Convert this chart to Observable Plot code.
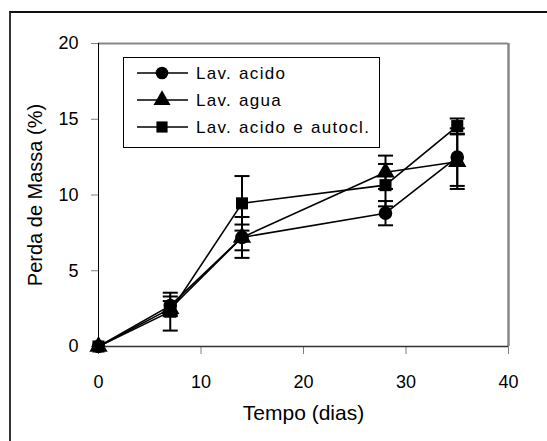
<!DOCTYPE html>
<html>
<head>
<meta charset="utf-8">
<script src="https://cdn.jsdelivr.net/npm/d3@7"></script>
<script src="https://cdn.jsdelivr.net/npm/@observablehq/plot@0.6"></script>
<style>
  html, body { margin: 0; padding: 0; background: #fff; overflow: hidden; }
  #wrap { position: relative; width: 547px; height: 441px; font-family: "Liberation Sans", Arial, sans-serif; }
  #frame { position: absolute; left: 9px; top: 11px; width: 700px; height: 600px;
           border-left: 2px solid #333; border-top: 2px solid #111; pointer-events: none; }
  #legend { position: absolute; left: 0; top: 0; }
</style>
</head>
<body>
<div id="wrap"><div id="frame"></div></div>
<script>
// ---- data ----
const days = [0, 7, 14, 28, 35];
const seriesNames = ["Lav. acido", "Lav. agua", "Lav. acido e autocl."];
const seriesSymbols = ["circle", "triangle", "square"];
const acido = [0, 2.7, 7.2, 8.8, 12.5];
const acidoErr = [0, 0.6, 1.35, 0.8, 1.9];
const agua = [0, 2.5, 7.2, 11.5, 12.2];
const aguaErr = [0, 0.5, 0.85, 1.1, 1.8];
const autocl = [0, 2.3, 9.45, 10.65, 14.55];
const autoclErr = [0, 1.25, 1.8, 1.4, 0.5];
const xTicks = [0, 10, 20, 30, 40];
const yTicks = [0, 5, 10, 15, 20];
const xLabel = "Tempo (dias)";
const yLabel = "Perda de Massa (%)";

const values = [acido, agua, autocl];
const errors = [acidoErr, aguaErr, autoclErr];
const rows = seriesNames.flatMap((s, i) =>
  days.map((d, j) => ({series: s, day: d, value: values[i][j], err: errors[i][j]})));
const errRows = rows.filter(r => r.err > 0);
const caps = errRows.flatMap(r => [{...r, yc: r.value + r.err}, {...r, yc: r.value - r.err}]);

const capSymbol = {
  draw(ctx, size) {
    const w = Math.sqrt(size / Math.PI);
    ctx.moveTo(-w, 0);
    ctx.lineTo(w, 0);
  }
};

const font = '"Liberation Sans", Arial, sans-serif';

const chart = Plot.plot({
  width: 547,
  height: 441,
  marginLeft: 98,
  marginRight: 39,
  marginTop: 43,
  marginBottom: 95,
  style: {fontFamily: font, fontSize: "18px", background: "transparent", overflow: "visible"},
  x: {domain: [0, 40]},
  y: {domain: [0, 20]},
  symbol: {domain: seriesNames, range: seriesSymbols},
  marks: [
    Plot.ruleY([20], {stroke: "#888", strokeWidth: 2}),
    Plot.ruleX([40], {stroke: "#888", strokeWidth: 2.5}),
    Plot.axisX({ticks: xTicks, tickSize: 8, tickPadding: 21, stroke: "#808080", fill: "#000", label: null, fontSize: 18}),
    Plot.axisY({ticks: yTicks, tickSize: 7, tickPadding: 13, stroke: "#808080", fill: "#000", label: null, fontSize: 18}),
    Plot.ruleX([0], {stroke: "#000", strokeWidth: 1}),
    Plot.ruleY([0], {stroke: "#333", strokeWidth: 1.5}),
    Plot.line(rows, {x: "day", y: "value", z: "series", stroke: "#000", strokeWidth: 1.6}),
    Plot.ruleX(errRows, {x: "day", y1: d => d.value - d.err, y2: d => d.value + d.err, stroke: "#000", strokeWidth: 2}),
    Plot.dot(caps, {x: "day", y: "yc", symbol: () => capSymbol, r: 7.5, stroke: "#000", strokeWidth: 2, fill: "none"}),
    Plot.dot(rows, {x: "day", y: "value", symbol: "series", r: 6.8, fill: "#000", stroke: "none"}),
    Plot.text([xLabel], {frameAnchor: "bottom", dy: 73, fontSize: 21, fill: "#000", letterSpacing: "1px", textAnchor: "middle"}),
    Plot.text([yLabel], {frameAnchor: "left", dx: -63, rotate: -90, fontSize: 20, fill: "#000", textAnchor: "middle"})
  ]
});
document.getElementById("wrap").prepend(chart);

// ---- legend ----
const lg = d3.select("#wrap").append("svg")
  .attr("id", "legend").attr("width", 547).attr("height", 441)
  .style("font-family", font);
lg.append("rect").attr("x", 123.5).attr("y", 57.5).attr("width", 256).attr("height", 90)
  .attr("fill", "#fff").attr("stroke", "#000").attr("stroke-width", 1);
const symMap = {circle: d3.symbolCircle, triangle: d3.symbolTriangle, square: d3.symbolSquare};
const rowY = [73, 100, 127];
seriesNames.forEach((name, i) => {
  const g = lg.append("g").attr("transform", `translate(0,${rowY[i]})`);
  g.append("line").attr("x1", 137).attr("x2", 188).attr("y1", 0).attr("y2", 0)
    .attr("stroke", "#000").attr("stroke-width", 1.6);
  g.append("path").attr("transform", "translate(162,0)")
    .attr("d", d3.symbol(symMap[seriesSymbols[i]], Math.PI * 6.3 * 6.3)())
    .attr("fill", "#000");
  g.append("text").attr("x", 196).attr("y", 0).attr("dy", "0.35em")
    .attr("font-size", 17).attr("letter-spacing", "1.3px").attr("word-spacing", "1px")
    .attr("fill", "#000").text(name);
});
</script>
</body>
</html>
